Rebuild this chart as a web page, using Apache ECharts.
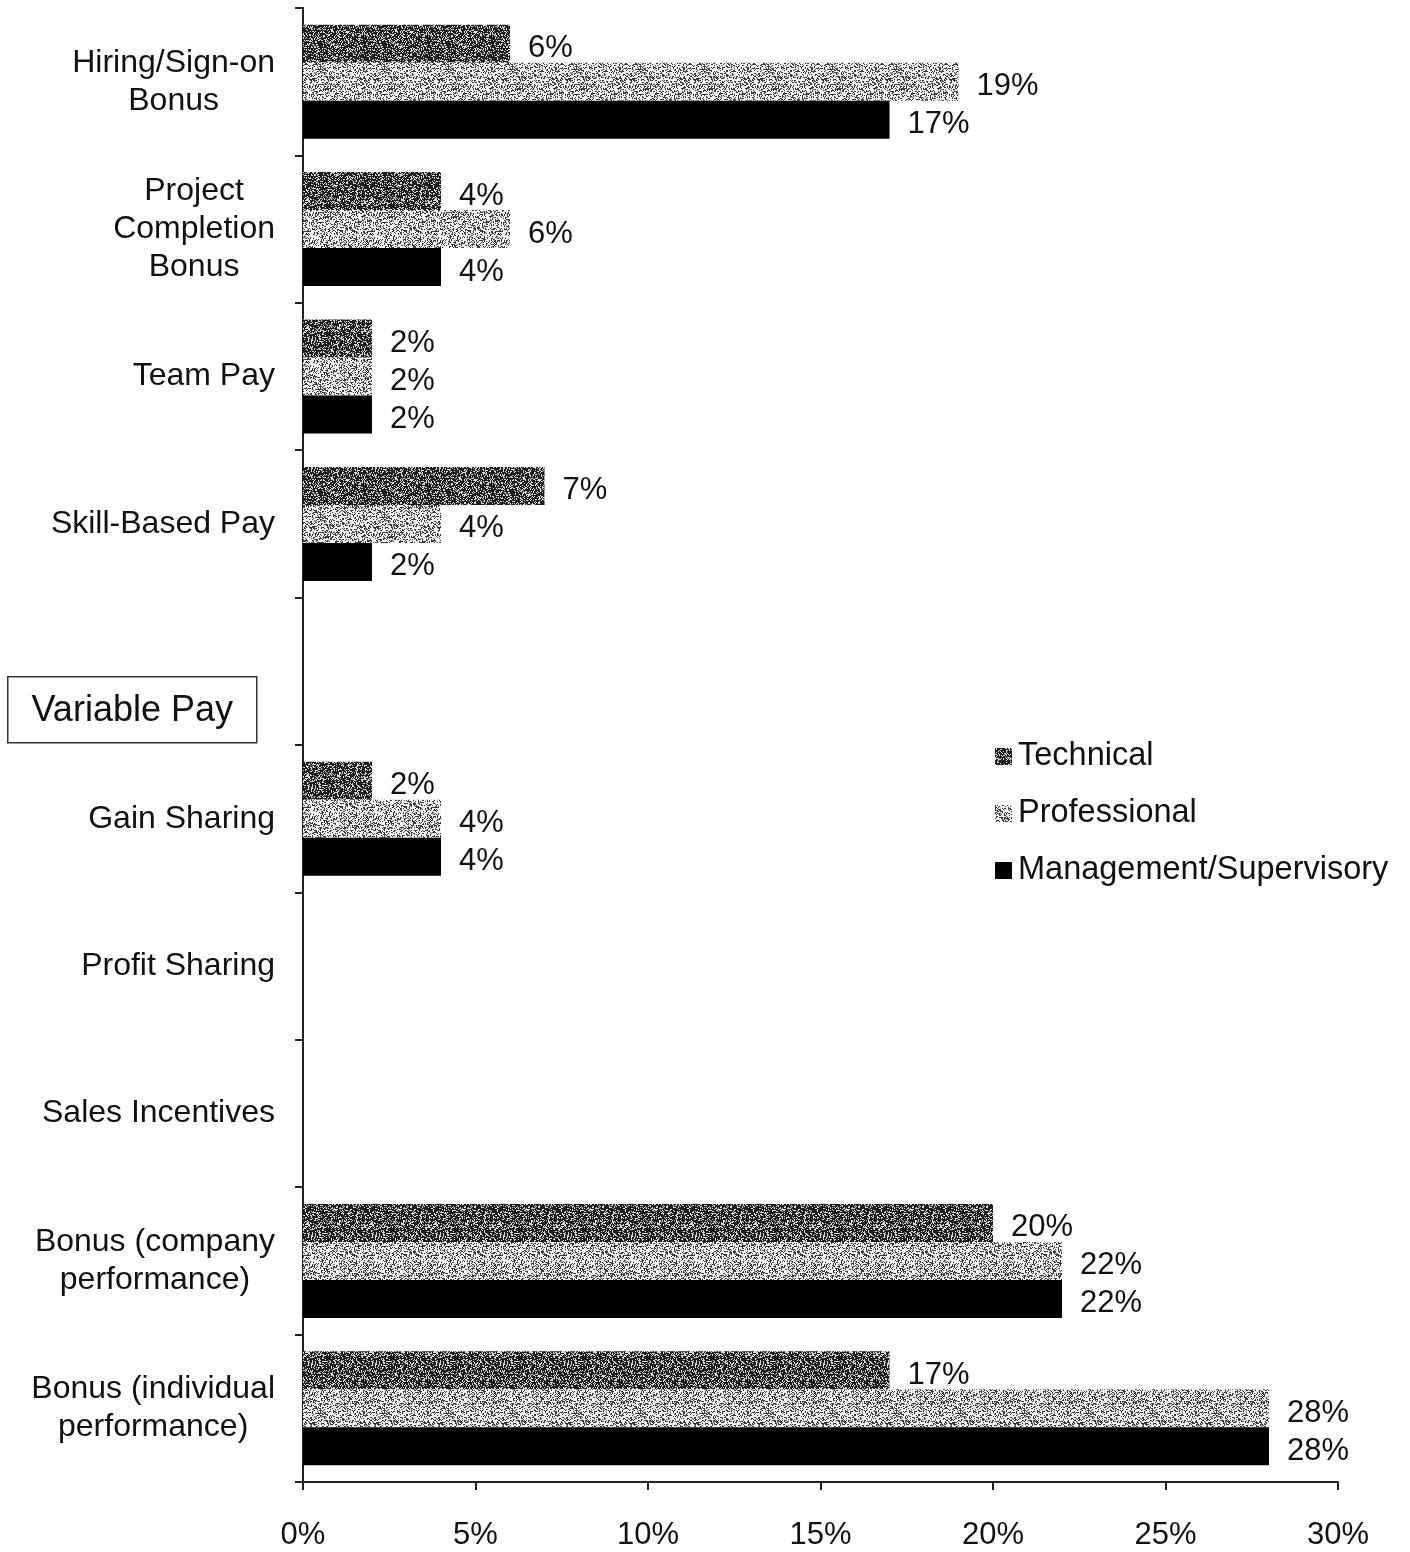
<!DOCTYPE html>
<html>
<head>
<meta charset="utf-8">
<script src="https://cdn.jsdelivr.net/npm/echarts@6/dist/echarts.min.js"></script>
<style>
html,body{margin:0;padding:0;background:#fff;}
#chart{width:1410px;height:1552px;}
</style>
</head>
<body>
<div id="chart"></div>
<script>
// ---- data ----
var categories = [
  'Hiring/Sign-on\nBonus',
  'Project\nCompletion\nBonus',
  'Team Pay',
  'Skill-Based Pay',
  '',
  'Gain Sharing',
  'Profit Sharing',
  'Sales Incentives',
  'Bonus (company\nperformance)',
  'Bonus (individual\nperformance)'
];
var seriesNames = ['Technical', 'Professional', 'Management/Supervisory'];
var technical    = [6, 4, 2, 7, null, 2, null, null, 20, 17];
var professional = [19, 6, 2, 4, null, 4, null, null, 22, 28];
var management   = [17, 4, 2, 2, null, 4, null, null, 22, 28];
var xTicks = [0, 5, 10, 15, 20, 25, 30];

// ---- speckled textures ----
function makeTexture(darkProb, dark, light) {
  var c = document.createElement('canvas');
  c.width = 64; c.height = 64;
  var ctx = c.getContext('2d');
  var img = ctx.createImageData(64, 64);
  for (var y = 0; y < 64; y++) {
    for (var x = 0; x < 64; x++) {
      var h = Math.sin(x * 12.9898 + y * 78.233) * 43758.5453;
      h = h - Math.floor(h);
      var v = h < darkProb ? dark : light;
      var i = (y * 64 + x) * 4;
      img.data[i] = v; img.data[i + 1] = v; img.data[i + 2] = v; img.data[i + 3] = 255;
    }
  }
  ctx.putImageData(img, 0, 0);
  return c;
}
var texTech = { image: makeTexture(0.70, 30, 215), repeat: 'repeat' };
var texProf = { image: makeTexture(0.36, 60, 240), repeat: 'repeat' };

var FONT = 'Liberation Sans';
var chart = echarts.init(document.getElementById('chart'));

function barSeries(name, data, color) {
  return {
    name: name,
    type: 'bar',
    data: data,
    barWidth: 38,
    barGap: '0%',
    itemStyle: { color: color },
    label: {
      show: true,
      position: 'right',
      distance: 18,
      offset: [0, 5],
      formatter: '{c}%',
      fontFamily: FONT,
      fontSize: 31,
      color: '#111'
    }
  };
}

chart.setOption({
  animation: false,
  backgroundColor: '#fff',
  grid: { left: 303, right: 72, top: 8, bottom: 70, containLabel: false },
  legend: {
    orient: 'vertical',
    left: 990,
    top: 735,
    itemWidth: 17,
    itemHeight: 17,
    itemGap: 24,
    icon: 'rect',
    textStyle: { fontFamily: FONT, fontSize: 32.5, color: '#111', lineHeight: 32, padding: [0, 0, 0, 1] },
    data: seriesNames
  },
  xAxis: {
    type: 'value',
    min: 0,
    max: 30,
    interval: 5,
    splitLine: { show: false },
    axisLine: { show: true, lineStyle: { color: '#222', width: 2 } },
    axisTick: { show: true, length: 8, lineStyle: { color: '#222', width: 2 } },
    axisLabel: {
      margin: 38,
      fontFamily: FONT,
      fontSize: 31,
      color: '#111',
      formatter: function (v) { return xTicks.indexOf(v) >= 0 ? v + '%' : ''; }
    }
  },
  yAxis: {
    type: 'category',
    inverse: true,
    data: categories,
    axisLine: { show: true, lineStyle: { color: '#222', width: 2 } },
    axisTick: { show: true, length: 8, lineStyle: { color: '#222', width: 2 } },
    axisLabel: {
      margin: 28,
      fontFamily: FONT,
      fontSize: 32,
      color: '#111',
      formatter: function (v) {
        return v.split('\n').map(function (s) { return '{c|' + s + '}'; }).join('\n');
      },
      rich: {
        c: { align: 'center', fontFamily: FONT, fontSize: 32, color: '#111', lineHeight: 38 }
      }
    }
  },
  series: [
    barSeries(seriesNames[0], technical, texTech),
    barSeries(seriesNames[1], professional, texProf),
    barSeries(seriesNames[2], management, '#000')
  ],
  graphic: [
    {
      type: 'group',
      left: 7,
      top: 676,
      children: [
        { type: 'rect', shape: { x: 0, y: 0, width: 249, height: 66 }, style: { fill: '#fff', stroke: '#333', lineWidth: 1.5 } },
        { type: 'text', x: 124.5, y: 34, style: { text: 'Variable Pay', fontFamily: FONT, fontSize: 36, fill: '#111', align: 'center', verticalAlign: 'middle' } }
      ]
    }
  ]
});
</script>
</body>
</html>
